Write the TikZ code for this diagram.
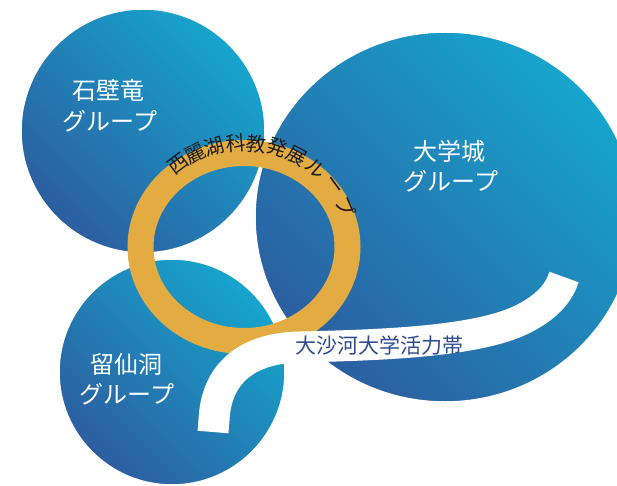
\documentclass[tikz,border=0pt]{standalone}
\usepackage{fontspec}
\newfontfamily\jp{Noto Sans CJK JP}
\usetikzlibrary{shapes.geometric}
\definecolor{bdark}{RGB}{44,94,160}
\definecolor{blight}{RGB}{22,165,205}
\definecolor{gold}{RGB}{226,172,66}
\definecolor{navy}{RGB}{46,76,142}
\definecolor{ink}{RGB}{30,28,28}
\tikzset{
  blob/.style={top color=blight, bottom color=bdark, shading angle=-45,
    draw=white, line width=1.5pt, inner sep=0pt, outer sep=0pt},
  grouplabel/.style={text=white, font=\jp\fontsize{24}{24}\selectfont, inner sep=0pt},
  ringch/.style={text=ink, font=\jp\fontsize{20}{20}\selectfont, inner sep=0pt},
  bandtext/.style={text=navy, font=\jp\fontsize{21}{21}\selectfont, inner sep=0pt},
  bandline/.style={draw=white, line width=31pt, line cap=butt},
}
\begin{document}
\begin{tikzpicture}[x=1pt,y=-1pt]
\useasboundingbox (0,0) rectangle (617,486);
% blobs
\node[blob, ellipse, minimum width=380pt, minimum height=370pt] (dxc) at (445,217) {};
\node[blob, circle, minimum size=244pt] (sbl) at (143,131) {};
\node[blob, circle, minimum size=226pt] (lxd) at (172,372) {};
% loop ring
\node[draw=gold, line width=26pt, ellipse, minimum width=207pt, minimum height=188pt, inner sep=0pt] (loop) at (244,247) {};
% band
\coordinate (b0) at (213,432);
\coordinate (b1) at (214,420);
\coordinate (b2) at (300,347);
\coordinate (b3) at (525,318);
\coordinate (b4) at (564,277);
\draw[bandline] (b0) -- (b1) .. controls (216,375) and (245,348) .. (b2)
  .. controls (380,345) and (480,342) .. (b3)
  .. controls (550,305) and (560,290) .. (b4);
% labels
\node[grouplabel] (sbl1) at (108,90) {石壁竜};
\node[grouplabel] (sbl2) at (110,121) {グループ};
\node[grouplabel] (dxc1) at (449,151) {大学城};
\node[grouplabel] (dxc2) at (451,181) {グループ};
\node[grouplabel] (lxd1) at (126,364) {留仙洞};
\node[grouplabel] (lxd2) at (127,394) {グループ};
\node[bandtext] (band) at (379,346) {大沙河大学活力帯};
% ring text
\foreach \ch/\a [count=\i] in {西/127,麗/116.5,湖/105.5,科/94.5,教/83.5,発/72.5,展/61.5,ル/49,ー/36,プ/23}
  \node[ringch, rotate=\a-90] (rc\i) at ({244+110*cos(\a)},{247-104*sin(\a)}) {\ch};
\end{tikzpicture}
\end{document}
